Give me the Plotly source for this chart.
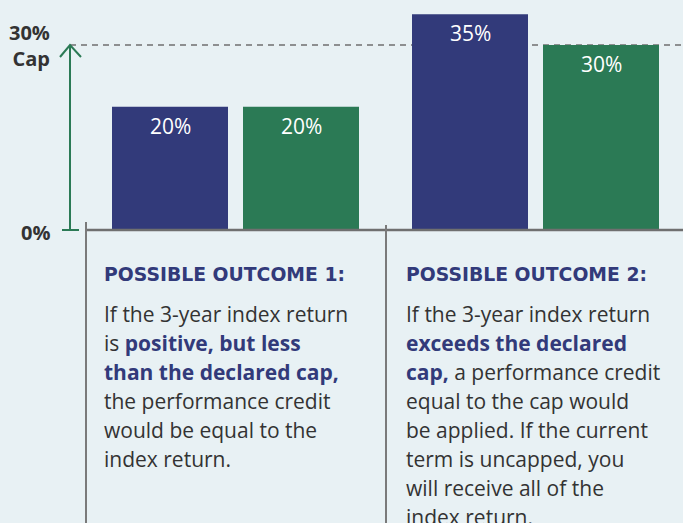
import plotly.graph_objects as go

# ---- data ----
groups = ["Possible outcome 1", "Possible outcome 2"]
group_pos = [0, 1]
index_return = [20, 35]          # navy bars
performance_credit = [20, 30]    # green bars
cap_value = 30

headings = ["POSSIBLE OUTCOME 1:", "POSSIBLE OUTCOME 2:"]
NAVY = "#323a7a"
GREEN = "#2b7a55"
TXT = "#333333"
BG = "#e8f1f4"
GRAY = "#6f6f6f"
FONT = "Open Sans"

def nb(s):
    return f"<b><span style='color:{NAVY}'>{s}</span></b>"

body1 = ["If the 3-year index return",
         "is " + nb("positive, but less"),
         nb("than the declared cap,"),
         "the performance credit",
         "would be equal to the",
         "index return."]
body2 = ["If the 3-year index return",
         nb("exceeds the declared"),
         nb("cap,") + " a performance credit",
         "equal to the cap would",
         "be applied. If the current",
         "term is uncapped, you",
         "will receive all of the",
         "index return."]

W, H = 683, 523
PX_X = 300.0          # pixels per group unit
X0 = 235.5            # pixel of group 0 center
Y0 = 230.0            # pixel of 0%
PX_Y = (230 - 45) / 30.0

bar_w = 116 / PX_X
gap = 15 / PX_X
off_navy = -(bar_w + gap / 2)
off_green = gap / 2

def px2x(p):
    return (p - X0) / PX_X

def px2y(p):
    return (Y0 - p) / PX_Y

fig = go.Figure()
fig.add_trace(go.Bar(x=group_pos, y=index_return, width=[bar_w] * 2,
                     offset=off_navy, marker=dict(color=NAVY, line=dict(width=0)),
                     name="Index return", hoverinfo="skip"))
fig.add_trace(go.Bar(x=group_pos, y=performance_credit, width=[bar_w] * 2,
                     offset=off_green, marker=dict(color=GREEN, line=dict(width=0)),
                     name="Performance credit", hoverinfo="skip"))

ann = []
for offs, vals in [(off_navy, index_return), (off_green, performance_credit)]:
    for p, v in zip(group_pos, vals):
        ann.append(dict(x=p + offs + bar_w / 2, y=v, xref="x", yref="y", text=f"{v}%",
                        showarrow=False, yshift=-19,
                        font=dict(color="white", size=21, family=FONT)))

# axis labels
ann.append(dict(x=52 / W, y=0, xref="paper", yref="y", xanchor="right", text="<b>0%</b>",
                showarrow=False, yshift=-2, font=dict(color=TXT, size=20, family=FONT)))
ann.append(dict(x=52 / W, y=cap_value, xref="paper", yref="y", xanchor="right",
                text="<b>30%<br>Cap</b>", showarrow=False, yshift=0, align="right",
                font=dict(color=TXT, size=20, family=FONT)))

# text blocks
col_x = [102, 404]
for i, (h, body) in enumerate(zip(headings, [body1, body2])):
    ann.append(dict(x=col_x[i] / W, y=1 - 274 / H, xref="paper", yref="paper",
                    xanchor="left", yanchor="middle", text=f"<b>{h}</b>", showarrow=False,
                    font=dict(color=NAVY, size=18.8, family="DejaVu Sans")))
    for j, line in enumerate(body):
        ann.append(dict(x=col_x[i] / W, y=1 - (314 + 29 * j) / H, xref="paper", yref="paper",
                        xanchor="left", yanchor="middle", text=line, showarrow=False,
                        font=dict(color=TXT, size=21, family=FONT)))

shapes = [
    # cap dashed line
    dict(type="line", xref="x", yref="y", x0=px2x(70), x1=px2x(W), y0=cap_value, y1=cap_value,
         line=dict(color=GRAY, width=1.5, dash="6px,5px"), layer="below"),
    # baseline
    dict(type="line", xref="x", yref="y", x0=px2x(85), x1=px2x(W), y0=0, y1=0,
         line=dict(color=GRAY, width=2.5), layer="above"),
    # vertical dividers
    dict(type="line", xref="x", yref="y", x0=px2x(86), x1=px2x(86), y0=px2y(222), y1=px2y(H),
         line=dict(color="#7a7a7a", width=2)),
    dict(type="line", xref="x", yref="y", x0=px2x(386), x1=px2x(386), y0=px2y(225), y1=px2y(H),
         line=dict(color="#7a7a7a", width=2)),
    # green arrow
    dict(type="line", xref="x", yref="y", x0=px2x(70), x1=px2x(70), y0=0, y1=cap_value,
         line=dict(color=GREEN, width=2)),
    dict(type="line", xref="x", yref="y", x0=px2x(62), x1=px2x(79), y0=0, y1=0,
         line=dict(color=GREEN, width=2)),
    dict(type="path", xref="x", yref="y",
         path=f"M {px2x(60)},{px2y(57)} L {px2x(70)},{cap_value} L {px2x(81)},{px2y(57)}",
         line=dict(color=GREEN, width=2)),
]

fig.update_layout(
    width=W, height=H, margin=dict(l=0, r=0, t=0, b=0),
    paper_bgcolor=BG, plot_bgcolor=BG, showlegend=False, barmode="overlay",
    xaxis=dict(range=[px2x(0), px2x(W)], visible=False, fixedrange=True),
    yaxis=dict(range=[px2y(H), px2y(0)], visible=False, fixedrange=True),
    annotations=ann, shapes=shapes,
)
fig.write_html("out.html", config={"displayModeBar": False},
               post_script="document.body.style.margin='0';document.body.style.overflow='hidden';")
